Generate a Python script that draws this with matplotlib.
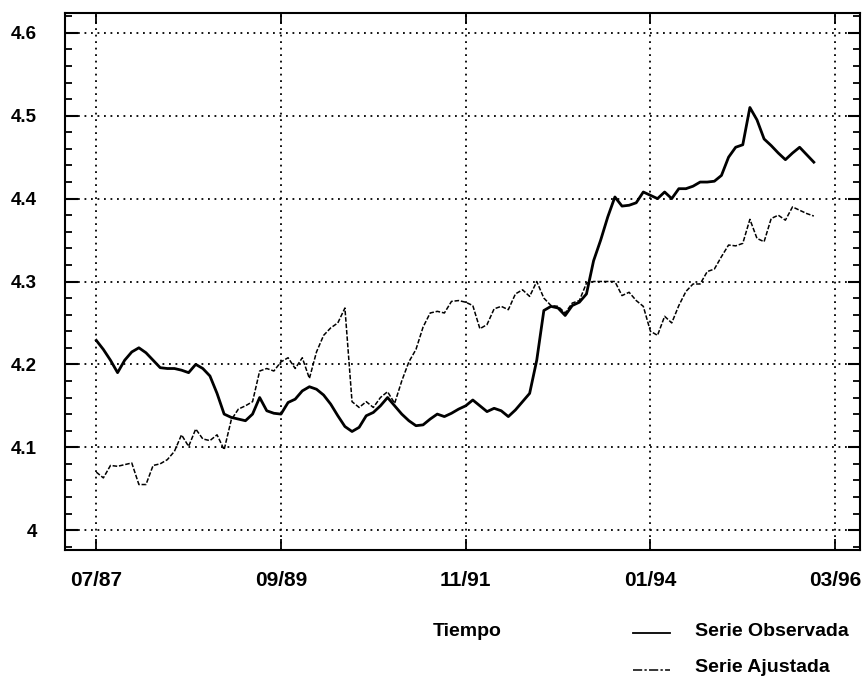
import matplotlib
matplotlib.use("Agg")
import matplotlib.pyplot as plt
from matplotlib.lines import Line2D
from matplotlib.ticker import MultipleLocator, FixedLocator

plt.rcParams['font.family'] = ['Liberation Sans', 'DejaVu Sans']

# months since 07/87
observada = [
    4.229, 4.218, 4.205, 4.190, 4.205, 4.215, 4.220, 4.214, 4.205, 4.196,
    4.195, 4.195, 4.193, 4.190, 4.200, 4.195, 4.186, 4.165, 4.140, 4.136,
    4.134, 4.132, 4.140, 4.160, 4.144, 4.141, 4.140, 4.154, 4.158, 4.168,
    4.173, 4.170, 4.163, 4.152, 4.138, 4.125, 4.119, 4.124, 4.138, 4.142,
    4.150, 4.160, 4.150, 4.140, 4.132, 4.126, 4.127, 4.134, 4.140, 4.137,
    4.141, 4.146, 4.150, 4.157, 4.150, 4.143, 4.147, 4.144, 4.137, 4.145,
    4.155, 4.165, 4.205, 4.265, 4.270, 4.268, 4.259, 4.271, 4.275, 4.285,
    4.325, 4.350, 4.378, 4.402, 4.391, 4.392, 4.395, 4.408, 4.404, 4.400,
    4.408, 4.400, 4.412, 4.412, 4.415, 4.420, 4.420, 4.421, 4.428, 4.450,
    4.462, 4.465, 4.510, 4.495, 4.472, 4.464, 4.455, 4.447, 4.455, 4.462,
    4.453, 4.444,
]
ajustada = [
    4.070, 4.063, 4.078, 4.077, 4.079, 4.081, 4.055, 4.055, 4.078, 4.080,
    4.085, 4.095, 4.115, 4.101, 4.122, 4.110, 4.108, 4.115, 4.097, 4.133,
    4.146, 4.150, 4.155, 4.192, 4.195, 4.192, 4.203, 4.208, 4.195, 4.208,
    4.183, 4.215, 4.235, 4.244, 4.250, 4.268, 4.155, 4.148, 4.155, 4.148,
    4.160, 4.167, 4.153, 4.180, 4.203, 4.218, 4.245, 4.262, 4.264, 4.262,
    4.276, 4.277, 4.275, 4.271, 4.243, 4.248, 4.267, 4.270, 4.266, 4.285,
    4.290, 4.282, 4.300, 4.280, 4.271, 4.270, 4.262, 4.274, 4.277, 4.298,
    4.300, 4.300, 4.300, 4.300, 4.283, 4.287, 4.277, 4.270, 4.240, 4.235,
    4.258, 4.250, 4.271, 4.288, 4.297, 4.297, 4.312, 4.315, 4.330, 4.344,
    4.343, 4.346, 4.375, 4.352, 4.348, 4.376, 4.380, 4.374, 4.390, 4.386,
    4.382, 4.379,
]
meses = list(range(len(observada)))

x_ticks = [0, 26, 52, 78, 104]
x_labels = ["07/87", "09/89", "11/91", "01/94", "03/96"]
y_ticks = [4.0, 4.1, 4.2, 4.3, 4.4, 4.5, 4.6]
y_labels = ["4", "4.1", "4.2", "4.3", "4.4", "4.5", "4.6"]
x_title = "Tiempo"
leg_labels = ["Serie Observada", "Serie Ajustada"]

fig = plt.figure(figsize=(8.65, 6.81), dpi=100)
ax = fig.add_axes([65/865, 1-550/681, (860-65)/865, (550-13)/681])

grid_style = dict(color='black', lw=1.3, linestyle=(0, (1, 2.6)), zorder=1)
for xv in x_ticks:
    ax.axvline(xv, **grid_style)
for yv in y_ticks:
    ax.axhline(yv, **grid_style)

obs_style = dict(color='black', lw=2.0, solid_joinstyle='round')
adj_style = dict(color='black', lw=1.1, linestyle=(0, (3, 1.2)))
ax.plot(meses, ajustada, zorder=3, **adj_style)
ax.plot(meses, observada, zorder=4, **obs_style)

ax.set_xlim(-4.4, 107.5)
ax.set_ylim(3.976, 4.624)

ax.xaxis.set_major_locator(FixedLocator(x_ticks))
ax.set_xticklabels(x_labels)
ax.yaxis.set_major_locator(FixedLocator(y_ticks))
ax.set_yticklabels(y_labels)
ax.yaxis.set_minor_locator(MultipleLocator(0.02))

ax.tick_params(axis='y', which='major', direction='in', length=9, width=1.5,
               left=True, right=True, pad=20, labelsize=13.5)
ax.tick_params(axis='y', which='minor', direction='in', length=5, width=1.3,
               left=True, right=True)
ax.tick_params(axis='x', which='major', direction='in', length=8, width=1.3,
               top=True, bottom=True, pad=15, labelsize=15)
for lab in ax.get_xticklabels() + ax.get_yticklabels():
    lab.set_fontweight('bold')

for s in ax.spines.values():
    s.set_linewidth(1.5)

fig.text(467/865, 1-632/681, x_title, ha='center', va='center',
         fontsize=14, fontweight='bold')

fig.add_artist(Line2D([633/865, 670/865], [1-633/681, 1-633/681],
                      transform=fig.transFigure, color='black', lw=1.3))
fig.add_artist(Line2D([633/865, 670/865], [1-670/681, 1-670/681],
                      transform=fig.transFigure, color='black', lw=1.1,
                      linestyle=(0, (6, 1.5, 1.5, 1.5))))
fig.text(695/865, 1-632/681, leg_labels[0], ha='left', va='center',
         fontsize=14, fontweight='bold')
fig.text(695/865, 1-668/681, leg_labels[1], ha='left', va='center',
         fontsize=14, fontweight='bold')

fig.savefig("out.png", dpi=100, facecolor='white')
